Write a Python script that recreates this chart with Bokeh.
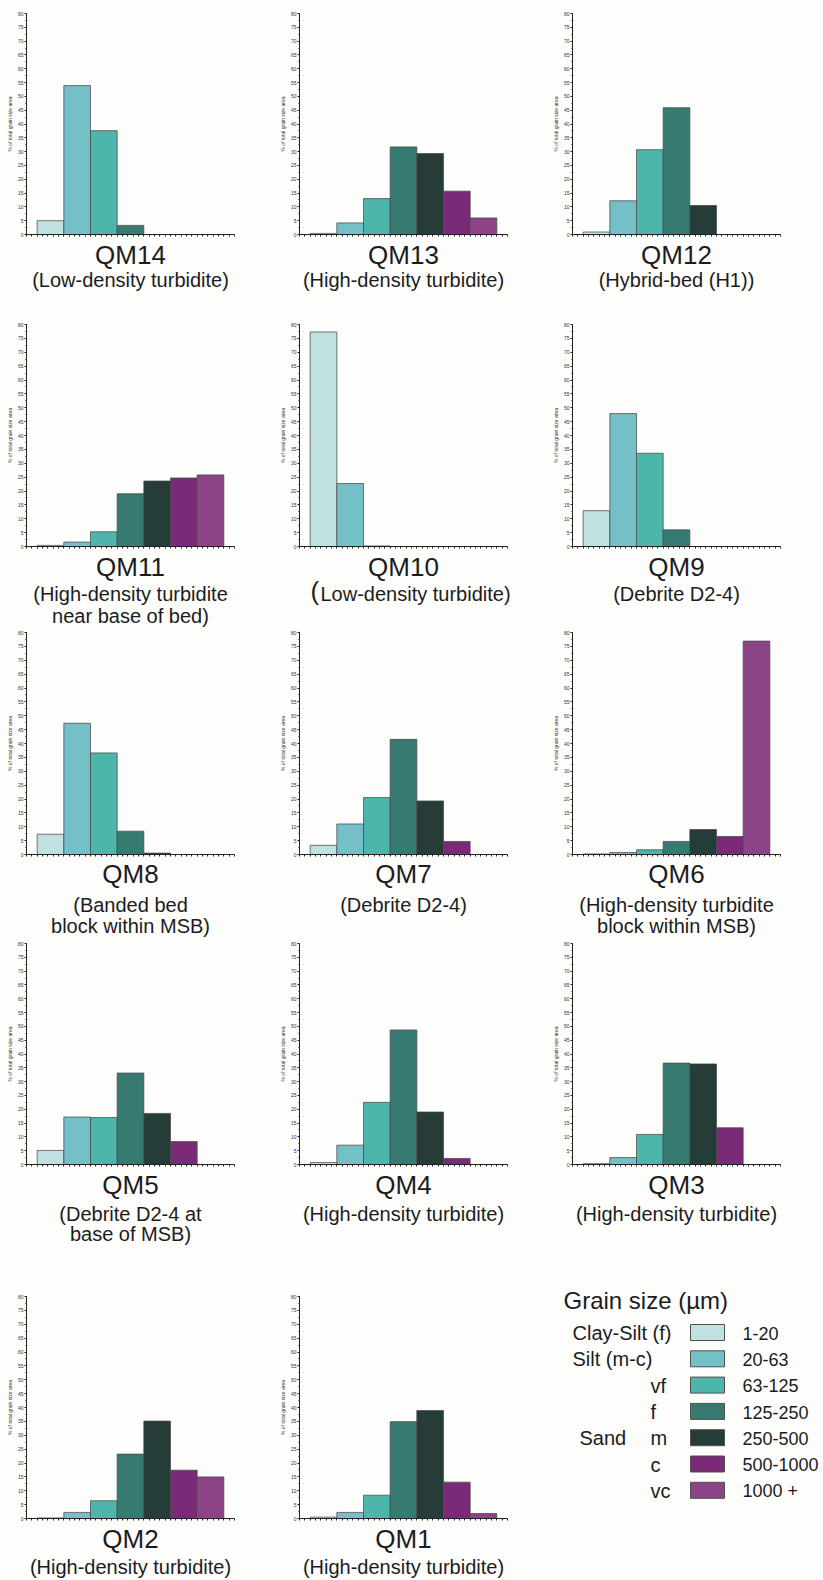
from bokeh.core.properties import value
from bokeh.embed import file_html
from bokeh.layouts import row
from bokeh.models import (ColumnDataSource, FixedTicker, LinearAxis, Range1d,
                          SingleIntervalTicker)
from bokeh.plotting import figure
from bokeh.resources import INLINE

# Grain-size classes (µm), their names and fill colours
size_classes = ["1-20", "20-63", "63-125", "125-250", "250-500", "500-1000", "1000 +"]
class_names = ["Clay-Silt (f)", "Silt (m-c)", "vf", "f", "m", "c", "vc"]
class_colors = ["#c0e1e0", "#75bfc7", "#4bb6a9", "#377a71", "#253c39", "#7a2a77", "#8c4487"]

# % of total grain size area in each class, per sample
qm14 = [5.0, 53.9, 37.6, 3.3, 0, 0, 0]
qm13 = [0.4, 4.2, 13.0, 31.7, 29.3, 15.7, 6.0]
qm12 = [0.9, 12.2, 30.7, 45.9, 10.5, 0, 0]
qm11 = [0.4, 1.6, 5.3, 19.0, 23.6, 24.7, 25.8]
qm10 = [77.3, 22.7, 0.2, 0, 0, 0, 0]
qm9 = [12.9, 47.9, 33.6, 6.0, 0, 0, 0]
qm8 = [7.3, 47.3, 36.6, 8.4, 0.5, 0, 0]
qm7 = [3.3, 11.0, 20.5, 41.5, 19.3, 4.7, 0]
qm6 = [0.2, 0.7, 1.7, 4.7, 9.0, 6.5, 76.9]
qm5 = [5.1, 17.2, 17.0, 33.1, 18.5, 8.3, 0]
qm4 = [0.7, 7.0, 22.5, 48.7, 19.0, 2.2, 0]
qm3 = [0.3, 2.5, 10.9, 36.7, 36.4, 13.3, 0]
qm2 = [0.2, 2.2, 6.4, 23.2, 35.1, 17.4, 15.0]
qm1 = [0.5, 2.2, 8.4, 34.9, 38.9, 13.1, 1.8]

samples = ["QM14", "QM13", "QM12", "QM11", "QM10", "QM9", "QM8",
           "QM7", "QM6", "QM5", "QM4", "QM3", "QM2", "QM1"]
sample_values = [qm14, qm13, qm12, qm11, qm10, qm9, qm8,
                 qm7, qm6, qm5, qm4, qm3, qm2, qm1]
captions = [
    ["(Low-density turbidite)"],
    ["(High-density turbidite)"],
    ["(Hybrid-bed (H1))"],
    ["(High-density turbidite", "near base of bed)"],
    ["(Low-density turbidite)"],
    ["(Debrite D2-4)"],
    ["(Banded bed", "block within MSB)"],
    ["(Debrite D2-4)"],
    ["(High-density turbidite", "block within MSB)"],
    ["(Debrite D2-4 at", "base of MSB)"],
    ["(High-density turbidite)"],
    ["(High-density turbidite)"],
    ["(High-density turbidite)"],
    ["(High-density turbidite)"],
]
# captions whose opening bracket is set in the larger title size
big_bracket = {"QM10"}

BG = "#fdfdfc"
FONT = "Liberation Sans"
INK = "#1c1c1c"
AXIS_INK = "#222222"
PAGE_H = 1580
COL_W = [273, 273, 277]
COL_LEFT = [0, 273, 546]
AXIS_LEFT = 26          # px from a column's left edge to its y-axes
FRAME_W = 208           # px length of each x-axis
X_LO, X_HI = -0.4, 7.4  # x-axis extent in bin units
Y_MAX = 80
TITLE_PX = 26
CAPTION_PX = 20

# page px of each row's 80 % tick and of its x-axis
row_top = [13, 324, 632, 943, 1296]
row_zero = [234, 546, 854, 1164, 1518]
# caption baselines below the x-axis (px): sample name, then caption lines
row_offsets = [
    [30, 52, 74],
    [30, 54, 76],
    [29, 57, 78],
    [30, 56, 76],
    [30, 55, 77],
]


def text_y(baseline, size_px):
    # the text glyph sets its anchor about 0.35 em above the baseline
    return baseline - 0.35 * size_px


def y_axis(range_name):
    ax = LinearAxis(y_range_name=range_name, fixed_location=X_LO, bounds=(0, Y_MAX),
                    ticker=SingleIntervalTicker(interval=5, num_minor_ticks=2))
    ax.axis_label = "% of total grain size area"
    ax.axis_label_text_font = FONT
    ax.axis_label_text_font_size = "5px"
    ax.axis_label_text_font_style = "normal"
    ax.axis_label_text_color = "#333333"
    ax.axis_label_standoff = 2
    ax.major_label_text_font = FONT
    ax.major_label_text_font_size = "5px"
    ax.major_label_text_color = "#333333"
    ax.major_label_standoff = 1
    ax.major_tick_out = 2
    ax.major_tick_in = 0
    ax.minor_tick_out = 1
    ax.minor_tick_in = 0
    ax.axis_line_color = AXIS_INK
    ax.major_tick_line_color = AXIS_INK
    ax.minor_tick_line_color = AXIS_INK
    return ax


def x_axis(range_name):
    ticks = [round(X_LO + 0.2 * k, 2) for k in range(40)]
    ax = LinearAxis(y_range_name=range_name, fixed_location=0, bounds=(X_LO, X_HI),
                    ticker=FixedTicker(ticks=ticks, minor_ticks=[]))
    ax.major_label_text_color = None
    ax.major_tick_out = 2
    ax.major_tick_in = 0
    ax.axis_line_color = AXIS_INK
    ax.major_tick_line_color = AXIS_INK
    return ax


def add_legend(p, left):
    # legend drawn in page pixels (y grows downwards)
    p.extra_x_ranges = {"page": Range1d(left, left + p.width)}
    row_y = [1332 + 26.3 * i for i in range(len(size_classes))]
    opts = dict(x_range_name="page", text_font=value(FONT), text_color=INK,
                text_align="left", text_baseline="alphabetic")
    p.quad(left=690, right=724, top=[y - 8 for y in row_y], bottom=[y + 8 for y in row_y],
           fill_color=class_colors, line_color="#505050", line_width=1, x_range_name="page")
    p.text(x=[563], y=[text_y(1308, 24)], text=["Grain size (µm)"],
           text_font_size="24px", **opts)
    p.text(x=[742] * len(size_classes), y=[text_y(y + 7, 18) for y in row_y],
           text=size_classes, text_font_size="18px", **opts)
    p.text(x=[572, 572, 650, 650, 650, 650, 650], y=[text_y(y + 7.5, 20) for y in row_y],
           text=class_names, text_font_size="20px", **opts)
    p.text(x=[579], y=[text_y(row_y[4] + 7.5, 20)], text=["Sand"],
           text_font_size="20px", **opts)


def make_column(c):
    width = COL_W[c]
    px_x = FRAME_W / (X_HI - X_LO)
    x0 = X_LO - AXIS_LEFT / px_x
    p = figure(width=width, height=PAGE_H,
               x_range=Range1d(x0, x0 + width / px_x), y_range=Range1d(PAGE_H, 0),
               x_axis_type=None, y_axis_type=None,
               output_backend="svg", toolbar_location=None, min_border=0,
               background_fill_color=BG, border_fill_color=BG, outline_line_color=None)
    p.title.visible = False

    ranges = {}
    panels = []
    for r in range(len(row_top)):
        k = r * 3 + c
        if k >= len(samples):
            continue
        name = f"panel{k}"
        scale = (row_zero[r] - row_top[r]) / Y_MAX
        ranges[name] = Range1d(-(PAGE_H - row_zero[r]) / scale, Y_MAX + row_top[r] / scale)
        panels.append((k, r, name))
    p.extra_y_ranges = ranges

    cap = dict(x=[], y=[], text=[], size=[], align=[])

    def put(x, baseline, txt, size, align="center"):
        cap["x"].append(x)
        cap["y"].append(text_y(baseline, size))
        cap["text"].append(txt)
        cap["size"].append(f"{size}px")
        cap["align"].append(align)

    mid = (X_LO + X_HI) / 2
    for k, r, name in panels:
        vals = sample_values[k]
        idx = [i for i, v in enumerate(vals) if v > 0]
        src = ColumnDataSource(dict(
            left=idx,
            right=[i + 1 for i in idx],
            top=[vals[i] for i in idx],
            color=[class_colors[i] for i in idx],
        ))
        p.quad(left="left", right="right", bottom=0, top="top", source=src,
               y_range_name=name, fill_color="color",
               line_color="#4a4a4a", line_width=1, line_alpha=0.75)
        p.add_layout(y_axis(name), "left")
        p.add_layout(x_axis(name), "below")

        offs = row_offsets[r]
        put(mid, row_zero[r] + offs[0], samples[k], TITLE_PX)
        for j, line in enumerate(captions[k]):
            base = row_zero[r] + offs[j + 1]
            if j == 0 and samples[k] in big_bracket and line.startswith("("):
                start = X_LO + (320 - COL_LEFT[c] - AXIS_LEFT) / px_x
                put(start - 0.05, base, "(", TITLE_PX, "right")
                put(start, base, line[1:], CAPTION_PX, "left")
            else:
                put(mid, base, line, CAPTION_PX)

    p.text(x="x", y="y", text="text", text_font_size="size", text_align="align",
           source=ColumnDataSource(cap), text_font=value(FONT), text_color=INK,
           text_baseline="alphabetic")

    if c == 2:
        add_legend(p, COL_LEFT[c])
    return p


layout = row(*[make_column(c) for c in range(3)])
open("out.html", "w").write(file_html(layout, INLINE))
